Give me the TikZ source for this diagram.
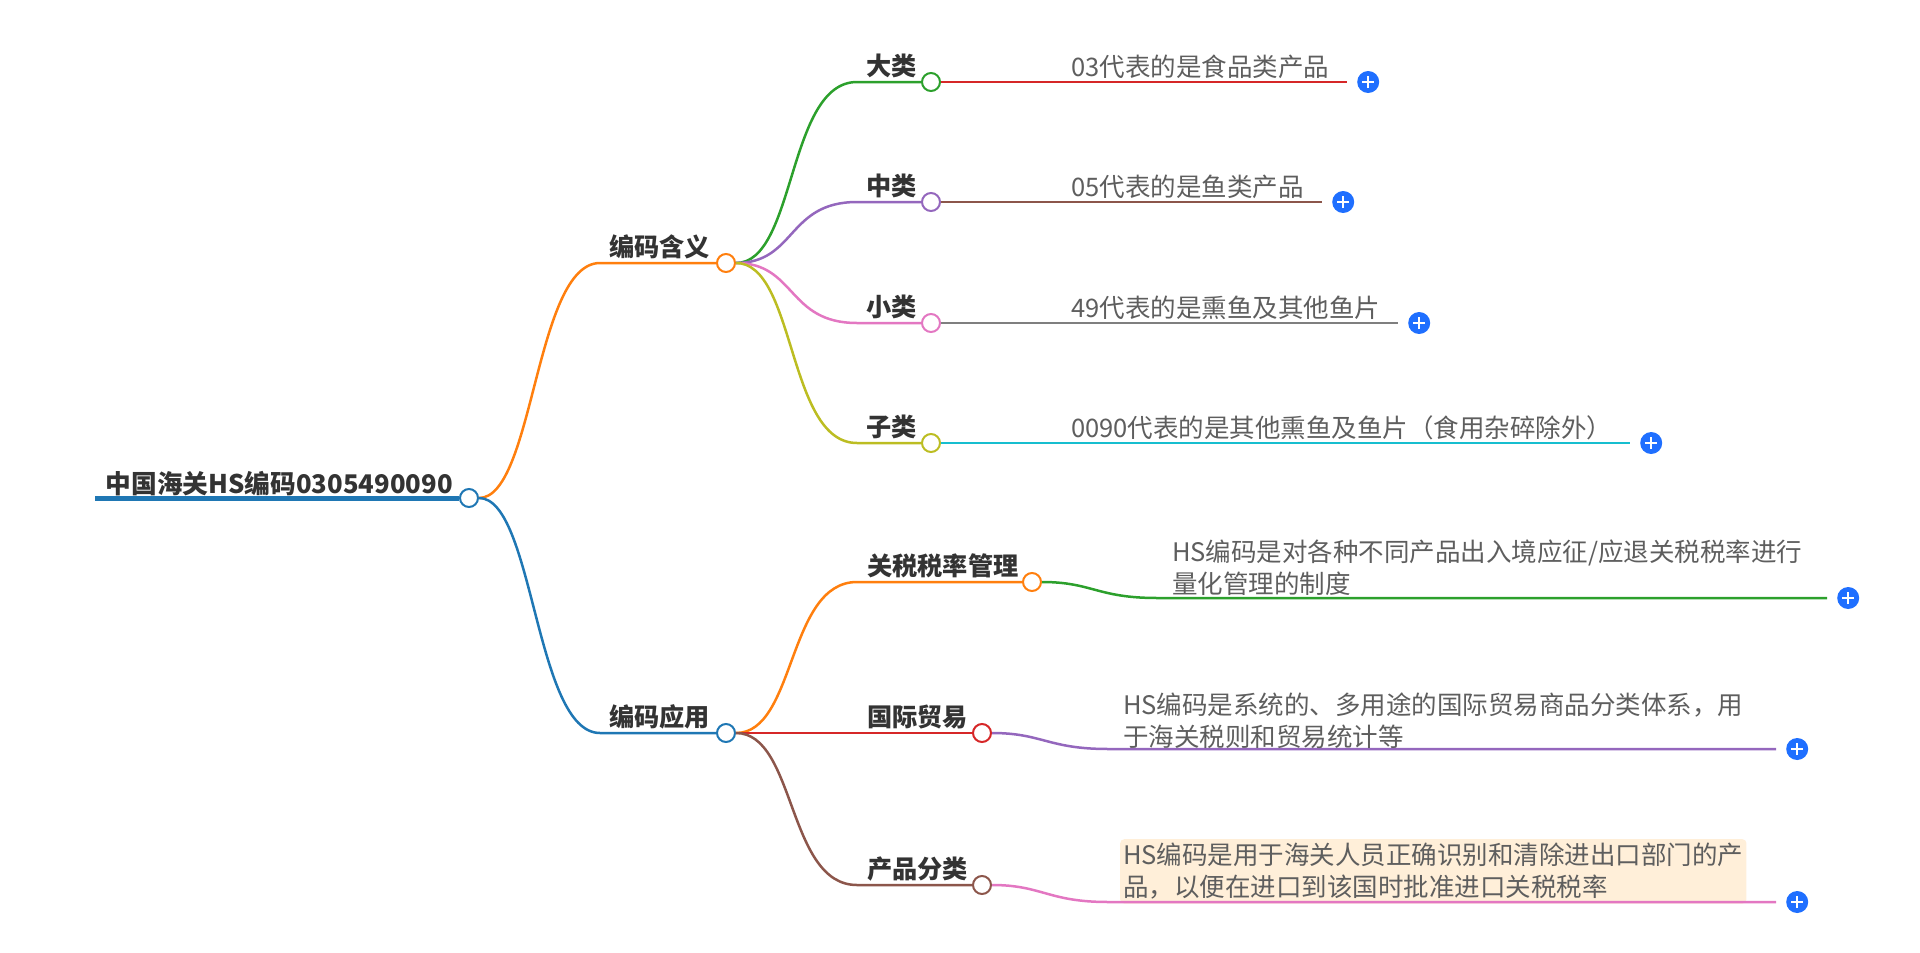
\documentclass[tikz,border=0pt]{standalone}
\usepackage{fontspec}
\setmainfont{Noto Sans CJK SC}
\usepackage{tikz}
\usetikzlibrary{positioning,calc}

\definecolor{mblue}{HTML}{1F77B4}
\definecolor{morange}{HTML}{FF7F0E}
\definecolor{mgreen}{HTML}{2CA02C}
\definecolor{mred}{HTML}{D62728}
\definecolor{mpurple}{HTML}{9467BD}
\definecolor{mbrown}{HTML}{8C564B}
\definecolor{mpink}{HTML}{E377C2}
\definecolor{mgray}{HTML}{7F7F7F}
\definecolor{molive}{HTML}{BCBD22}
\definecolor{mcyan}{HTML}{17BECF}
\definecolor{plusblue}{HTML}{1F6FFF}
\definecolor{txtdark}{HTML}{333333}
\definecolor{txtnote}{HTML}{5E5E5E}
\definecolor{hilite}{HTML}{FFEFD9}

\tikzset{
  hub/.style={circle, draw, fill=white, line width=2pt, minimum size=18pt, inner sep=0pt},
  lbl/.style={font=\fontsize{25.2}{28}\selectfont\bfseries, text=txtdark, inner sep=0pt},
  note/.style={font=\fontsize{25.5}{32}\selectfont, text=txtnote, inner sep=0pt, align=left},
  br/.style={line width=2.5pt},
  plusbtn/.style={circle, fill=plusblue, minimum size=22pt, inner sep=0pt,
    path picture={
      \draw[white, line width=2.4pt]
        ([xshift=-6pt]path picture bounding box.center) -- ([xshift=6pt]path picture bounding box.center)
        ([yshift=-6pt]path picture bounding box.center) -- ([yshift=6pt]path picture bounding box.center);
    }},
}

\begin{document}
\begin{tikzpicture}[x=1pt,y=-1pt]
\useasboundingbox (0,0) rectangle (1920,953);

% root
\coordinate (r0) at (95,498);
\node[hub, draw=mblue] (root) at (469,498) {};
\draw[mblue, line width=5pt] (r0) -- (root);
\node[lbl, anchor=base east, font=\fontsize{25.7}{28}\selectfont\bfseries] (roottxt) at (453,493) {中国海关HS编码0305490090};

% first level
\node[hub, draw=morange] (meaning) at (726,263) {};
\node[hub, draw=mblue] (usage) at (726,733) {};
\coordinate (m0) at (600,263);
\coordinate (u0) at (600,733);
\draw[br, morange] (root) .. controls +(65,0) and +(-65,0) .. (m0) -- (meaning);
\draw[br, mblue] (root) .. controls +(65,0) and +(-65,0) .. (u0) -- (usage);
\node[lbl, anchor=base east] (meaningtxt) at (710,256) {编码含义};
\node[lbl, anchor=base east] (usagetxt) at (710,726) {编码应用};

% 编码含义
\node[hub, draw=mgreen] (big) at (931,82) {};
\node[hub, draw=mpurple] (mid) at (931,202) {};
\node[hub, draw=mpink] (small) at (931,323) {};
\node[hub, draw=molive] (sub) at (931,443) {};
\coordinate (b0) at (857,82);
\coordinate (d0) at (857,202);
\coordinate (s0) at (857,323);
\coordinate (z0) at (857,443);
\draw[br, mgreen] (meaning) .. controls +(70,0) and +(-70,0) .. (b0) -- (big);
\draw[br, mpurple] (meaning) .. controls +(70,0) and +(-70,0) .. (d0) -- (mid);
\draw[br, mpink] (meaning) .. controls +(70,0) and +(-70,0) .. (s0) -- (small);
\draw[br, molive] (meaning) .. controls +(70,0) and +(-70,0) .. (z0) -- (sub);
\node[lbl, anchor=base east] (bigtxt) at (917,75) {大类};
\node[lbl, anchor=base east] (midtxt) at (917,195) {中类};
\node[lbl, anchor=base east] (smalltxt) at (917,316) {小类};
\node[lbl, anchor=base east] (subtxt) at (917,436) {子类};

\coordinate (b1) at (1347,82);
\coordinate (d1) at (1322,202);
\coordinate (s1) at (1398,323);
\coordinate (z1) at (1630,443);
\draw[br, mred] (big) -- (b1);
\draw[br, mbrown] (mid) -- (d1);
\draw[br, mgray] (small) -- (s1);
\draw[br, mcyan] (sub) -- (z1);
\node[note, anchor=base west] (bignote) at (1071,76) {03代表的是食品类产品};
\node[note, anchor=base west] (midnote) at (1071,196) {05代表的是鱼类产品};
\node[note, anchor=base west] (smallnote) at (1071,317) {49代表的是熏鱼及其他鱼片};
\node[note, anchor=base west] (subnote) at (1071,437) {0090代表的是其他熏鱼及鱼片（食用杂碎除外）};
\node[plusbtn, right=10pt of b1] (bplus) {};
\node[plusbtn, right=10pt of d1] (dplus) {};
\node[plusbtn, right=10pt of s1] (splus) {};
\node[plusbtn, right=10pt of z1] (zplus) {};

% 编码应用
\node[hub, draw=morange] (tax) at (1032,582) {};
\node[hub, draw=mred] (trade) at (982,733) {};
\node[hub, draw=mbrown] (cls) at (982,885) {};
\coordinate (t0) at (857,582);
\coordinate (c0) at (857,885);
\draw[br, morange] (usage) .. controls +(70,0) and +(-70,0) .. (t0) -- (tax);
\draw[br, mred] (usage) -- (trade);
\draw[br, mbrown] (usage) .. controls +(70,0) and +(-70,0) .. (c0) -- (cls);
\node[lbl, anchor=base west] (taxtxt) at (867,575) {关税税率管理};
\node[lbl, anchor=base west] (tradetxt) at (867,726) {国际贸易};
\node[lbl, anchor=base west] (clstxt) at (867,878) {产品分类};

\coordinate (t1) at (1157,598);
\coordinate (t2) at (1827,598);
\coordinate (g1) at (1108,749);
\coordinate (g2) at (1776,749);
\coordinate (c1) at (1108,902);
\coordinate (c2) at (1776,902);
\draw[br, mgreen] (tax) .. controls +(60,0) and +(-60,0) .. (t1) -- (t2);
\draw[br, mpurple] (trade) .. controls +(60,0) and +(-60,0) .. (g1) -- (g2);
\node[note, anchor=north west, fill=hilite, rounded corners=4pt, inner xsep=3pt, inner ysep=4pt] (clsnote) at (1120,839)
  {HS编码是用于海关人员正确识别和清除进出口部门的产\\品，以便在进口到该国时批准进口关税税率};
\draw[br, mpink] (cls) .. controls +(60,0) and +(-60,0) .. (c1) -- (c2);
\node[note, anchor=north west] (taxnote) at (1172,540)
  {HS编码是对各种不同产品出入境应征/应退关税税率进行\\量化管理的制度};
\node[note, anchor=north west] (tradenote) at (1123,693)
  {HS编码是系统的、多用途的国际贸易商品分类体系，用\\于海关税则和贸易统计等};
\node[plusbtn, right=10pt of t2] (tplus) {};
\node[plusbtn, right=10pt of g2] (gplus) {};
\node[plusbtn, right=10pt of c2] (cplus) {};

\end{tikzpicture}
\end{document}
